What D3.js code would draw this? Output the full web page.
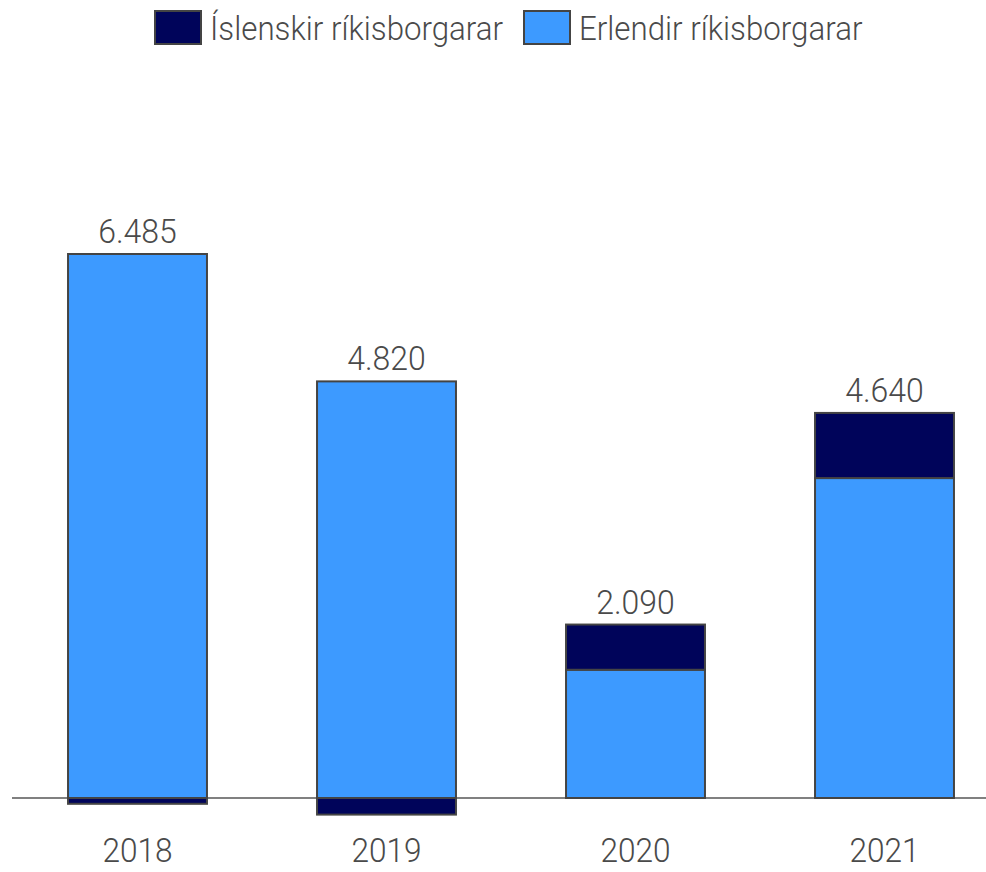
<!DOCTYPE html>
<html>
<head>
<meta charset="utf-8">
<script src="https://cdn.jsdelivr.net/npm/d3@7"></script>
<style>
  html, body { margin: 0; padding: 0; background: #fff; }
  svg text { font-family: Roboto, "Noto Sans", sans-serif; font-weight: 300; fill: #4a4a4a; }
</style>
</head>
<body>
<div id="chart"></div>
<script>
// data
var years = ["2018", "2019", "2020", "2021"];
var icelandic = [-70, -200, 545, 785];     // Íslenskir ríkisborgarar
var foreign = [6555, 5020, 1545, 3855];     // Erlendir ríkisborgarar
var seriesNames = ["Íslenskir ríkisborgarar", "Erlendir ríkisborgarar"];
var seriesColors = ["#00045a", "#3d9aff"];

var chartWidth = 986
var chartHeight = 872
var strokeColor = "#444";

// the original font is a narrow light face, so squeeze Roboto Light a bit
function squeeze(sx) {
  return function(sel) { sel.attr("transform", "scale(" + sx + ",1)"); };
}

var rows = years.map(function(y, i) {
  return { year: y, isl: icelandic[i], erl: foreign[i] };
});

// foreign stacked first so it sits on the baseline, icelandic on top / below zero
var stack = d3.stack()
    .keys(["erl", "isl"])
    .offset(d3.stackOffsetDiverging);
var layers = stack(rows);

var xScale = d3.scaleBand()
    .domain(years)
    .range([13, 1009])
    .paddingInner(0.442)
    .paddingOuter(0.221);

var yScale = d3.scaleLinear()
    .domain([0, 6555])
    .range([798, 254]);

var fmt = d3.formatLocale({ decimal: ",", thousands: ".", grouping: [3], currency: ["", ""] }).format(",");

var svg = d3.select('#chart')
  .append("svg")
  .attr("width", chartWidth)
  .attr("height", chartHeight);

// baseline
svg.append("line")
    .attr("x1", 12)
    .attr("x2", chartWidth)
    .attr("y1", yScale(0))
    .attr("y2", yScale(0))
    .attr("stroke", "#808080")
    .attr("stroke-width", 2);

var colorOf = { erl: seriesColors[1], isl: seriesColors[0] };

svg.selectAll("g.layer")
  .data(layers)
  .enter().append("g")
    .attr("class", "layer")
    .attr("fill", function(d) { return colorOf[d.key]; })
  .selectAll("rect")
  .data(function(d) { return d; })
  .enter().append("rect")
    .attr("x", function(d) { return xScale(d.data.year); })
    .attr("width", xScale.bandwidth())
    .attr("y", function(d) { return yScale(Math.max(d[0], d[1])); })
    .attr("height", function(d) { return Math.abs(yScale(d[0]) - yScale(d[1])); })
    .attr("stroke", strokeColor)
    .attr("stroke-width", 2);

// totals above the bars
svg.selectAll("g.total")
  .data(rows)
  .enter().append("g")
    .attr("class", "total")
    .attr("transform", function(d) {
      return "translate(" + (xScale(d.year) + xScale.bandwidth() / 2) + "," +
        (yScale(Math.max(d.erl, 0) + Math.max(d.isl, 0)) - 11) + ")";
    })
  .append("text")
    .attr("text-anchor", "middle")
    .style("font-size", "34px")
    .call(squeeze(0.94))
    .text(function(d) { return fmt(d.isl + d.erl); });

// year labels (kept just inside the bottom edge)
svg.append("g")
    .attr("transform", "translate(0," + (yScale(0)) + ")")
    .call(d3.axisBottom(xScale).tickSize(0))
    .call(function(g) { g.select(".domain").remove(); })
    .selectAll("text")
    .attr("y", 64)
    .attr("dy", null)
    .style("font-size", "34px")
    .attr("font-family", null)
    .attr("fill", null)
    .call(squeeze(0.93));

// legend
var legendX = [154, 523];
var legend = svg.selectAll("g.legend")
  .data(seriesNames)
  .enter().append("g")
    .attr("class", "legend")
    .attr("transform", function(d, i) { return "translate(" + legendX[i] + ",0)"; });

legend.append("rect")
    .attr("x", 1)
    .attr("y", 11)
    .attr("width", 46)
    .attr("height", 33)
    .attr("fill", function(d, i) { return seriesColors[i]; })
    .attr("stroke", strokeColor)
    .attr("stroke-width", 2);

legend.append("g")
    .attr("transform", "translate(56,40)")
  .append("text")
    .style("font-size", "34px")
    .call(squeeze(0.92))
    .text(function(d) { return d; });
</script>
</body>
</html>
